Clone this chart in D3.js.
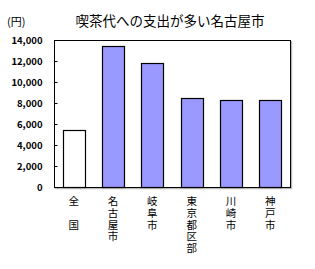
<!DOCTYPE html>
<html>
<head>
<meta charset="utf-8">
<script src="https://cdn.jsdelivr.net/npm/d3@7"></script>
<style>
  body { margin: 0; background: #fff; }
  svg { display: block; }
  text { font-family: "Noto Sans CJK JP", sans-serif; fill: #000; }
  .cat { writing-mode: vertical-rl; text-orientation: upright; }
</style>
</head>
<body>
<svg id="chart" width="315" height="269"></svg>
<script>
const categories = ["全　国", "名古屋市", "岐阜市", "東京都区部", "川崎市", "神戸市"];
const values = [5420, 13420, 11770, 8440, 8250, 8250];
const highlight = [false, true, true, true, true, true];
const yTicks = [0, 2000, 4000, 6000, 8000, 10000, 12000, 14000];
const title = "喫茶代への支出が多い名古屋市";
const unit = "(円)";

const svg = d3.select("#chart");
const margin = { left: 54, right: 25, top: 40, bottom: 82 };
const width = 315, height = 269;

const x = d3.scaleBand()
  .domain(categories)
  .range([margin.left, width - margin.right])
  .paddingInner(0.44)
  .paddingOuter(0.22);

const y = d3.scaleLinear()
  .domain([0, 14000])
  .range([height - margin.bottom, margin.top]);

// title + unit
svg.append("text")
  .attr("x", 170).attr("y", 26)
  .attr("text-anchor", "middle")
  .attr("font-size", 13.5)
  .text(title);

svg.append("text")
  .attr("x", 7).attr("y", 26)
  .attr("font-size", 11)
  .text(unit);

// plot frame with shadow
const x0 = margin.left, x1 = width - margin.right,
  y0 = margin.top, y1 = height - margin.bottom;

svg.append("path")
  .attr("d", `M${x1 + 1.5},${y0 + 1}V${y1 + 1.5}H${x0 + 1}`)
  .attr("fill", "none")
  .attr("stroke", "#bbb")
  .attr("stroke-width", 1.5);

svg.append("rect")
  .attr("x", x0 + 0.5).attr("y", y0 + 0.5)
  .attr("width", x1 - x0).attr("height", y1 - y0)
  .attr("fill", "#fff")
  .attr("stroke", "#000")
  .attr("stroke-width", 1);

// y axis (ticks inward)
const yAxis = svg.append("g")
  .attr("transform", `translate(${x0 + 0.5},0)`)
  .call(d3.axisLeft(y).tickValues(yTicks).tickSize(-3).tickPadding(12)
    .tickFormat(d3.format(",")));
yAxis.select(".domain").remove();
yAxis.selectAll("text")
  .attr("font-size", 9.5)
  .attr("font-weight", "bold")
  .attr("font-family", "'Liberation Sans', sans-serif");
yAxis.selectAll("line").attr("stroke", "#000");

// bars
svg.selectAll(".bar")
  .data(categories)
  .enter()
  .append("rect")
  .attr("class", "bar")
  .attr("x", d => Math.round(x(d)) + 0.5)
  .attr("y", (d, i) => Math.round(y(values[i])) + 0.5)
  .attr("width", Math.round(x.bandwidth()))
  .attr("height", (d, i) => Math.round(y(0)) - Math.round(y(values[i])))
  .attr("fill", (d, i) => highlight[i] ? "#9999ff" : "#fff")
  .attr("stroke", "#000")
  .attr("stroke-width", 1.2);

// vertical category labels
svg.selectAll(".cat")
  .data(categories)
  .enter()
  .append("text")
  .attr("class", "cat")
  .attr("x", d => x(d) + x.bandwidth() / 2)
  .attr("y", 196)
  .attr("font-size", 10.5)
  .attr("letter-spacing", 1.2)
  .text(d => d);
</script>
</body>
</html>
